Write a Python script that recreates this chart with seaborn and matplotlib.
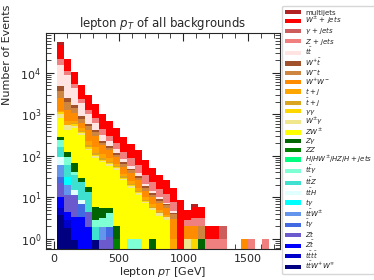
import matplotlib
matplotlib.use("Agg")
import matplotlib.pyplot as plt
from matplotlib.legend_handler import HandlerPatch
from matplotlib.patches import Rectangle
from matplotlib.ticker import MultipleLocator
import numpy as np
import pandas as pd
import seaborn as sns

# lepton pT binning [GeV]
PT_MIN = 21
PT_MAX = 1662
N_BINS = 30

# events per bin, one list per background (bins 0..29)
multijets = [7000, 0, 0, 0, 0, 0, 0, 0, 0, 0, 0, 0, 0, 0, 0, 0, 0, 0, 0, 0.9,
             0, 0, 0, 0, 0, 0, 0, 0, 0, 0]
w_jets = [25600, 10600, 4900, 2800, 1650, 1000, 560, 390, 260, 155, 108, 75, 44, 28, 19,
          14, 9, 8.7, 2.1, 2.85, 2.85, 1, 1, 0, 0, 0, 0, 0, 0, 0]
gam_jets = [0, 0, 0, 0, 0, 0, 0, 0, 0, 0, 0, 0, 0, 0, 0, 0, 0, 0, 0, 0,
            0, 0, 0, 1, 0, 0, 0, 0, 0, 0]
z_jets = [5800, 1900, 1000, 480, 250, 190, 120, 85, 62, 40, 30, 22, 13, 9, 6,
          4.5, 3, 0, 0.9, 1.15, 1.15, 1, 1, 1, 0, 0, 0, 1, 0, 1]
ttbar = [10900, 6440, 2700, 1000, 420, 200, 90, 55, 30, 15, 8, 5, 2.5, 1.5, 1,
         0.6, 0.5, 0, 0, 0, 0, 0, 0, 0, 0, 0, 0, 0, 0, 0]
wp_tbar = [980, 430, 260, 150, 60, 40, 20, 14, 10, 6, 4, 3, 1.5, 1, 0.6,
           0.5, 0.3, 0, 0, 0, 0, 0, 0, 0, 0, 0, 0, 0, 0, 0]
wm_t = [1240, 740, 350, 160, 90, 60, 30, 18, 14, 9, 6, 4, 2.5, 1.5, 1,
        0.8, 0.8, 0, 0, 0, 1, 0, 0, 0, 0, 0, 0, 0, 0, 0]
ww = [1290, 600, 400, 150, 200, 150, 70, 50, 30, 18, 14, 9, 4.5, 3, 2.4,
      1.8, 2.1, 0, 1, 1, 0, 0, 0, 0, 0, 0, 1, 0, 0, 0]
t_j = [80, 130, 80, 60, 50, 40, 20, 15, 8, 5, 4, 2.5, 1.3, 1, 0.6,
       0.5, 1, 0, 0, 0, 0, 0, 0, 0, 0, 0, 0, 0, 0, 0]
tbar_j = [0, 0, 30, 20, 20, 15, 8, 6, 3, 2, 1.5, 1, 0.5, 0.5, 0.3,
          0, 0, 0, 0, 0, 0, 0, 0, 0, 0, 0, 0, 0, 0, 0]
gam_gam = [115, 0, 60, 30, 11, 8, 5, 4, 3, 1.5, 1, 1, 0.3, 0, 0,
           0, 0, 0, 0, 1, 0, 0, 0, 0, 0, 0, 0, 0, 0, 0]
w_gam = [175, 140, 60, 30, 10, 7, 5, 6, 4, 2.5, 1.5, 1, 0.5, 0.5, 0.5,
         0.4, 0, 0, 1, 0, 0, 0, 0, 0, 0, 0, 0, 0, 0, 0]
z_w = [533, 295, 400, 290, 121, 84, 66, 51, 44, 26, 16, 10.5, 7.4, 4, 3.6,
       2.9, 0, 0, 0, 0, 0, 0, 0, 0, 0, 0, 0, 0, 0, 0]
z_gam = [44, 30, 27, 5.9, 4.4, 3, 2.4, 1.4, 1, 0, 0, 0, 0, 1, 0,
         0, 0, 0, 0, 0, 1, 0, 0, 0, 0, 0, 0, 0, 0, 0]
z_z = [0, 0, 0, 0, 0, 0, 0, 0, 1, 0, 0, 0, 0, 0, 0,
       0, 0, 0, 0, 0, 0, 0, 0, 0, 0, 0, 0, 0, 0, 0]
higgs = [0, 0, 0, 0, 0, 0, 0, 0, 0, 0, 0, 0, 0, 0, 0,
         0, 0, 0, 0, 0, 0, 0, 0, 0, 0, 0, 0, 0, 0, 0]
tt_gam = [77, 34, 6.2, 0, 0, 0.9, 1.25, 2.25, 0, 0, 1, 1, 0, 0, 0,
          0, 0, 0, 0, 0, 0, 0, 0, 0, 0, 0, 0, 0, 0, 0]
tt_z = [71, 30, 19.6, 14.9, 9, 1, 0, 0, 0, 0, 0, 0, 0, 0, 0,
        0, 0, 0, 0, 0, 0, 0, 0, 0, 0, 0, 0, 0, 0, 0]
tt_h = [34, 0, 3.7, 1.7, 0, 0, 0, 0, 0, 0, 0, 0, 0, 0, 0,
        0, 0, 0, 0, 0, 0, 0, 0, 0, 0, 0, 0, 0, 0, 0]
t_gam = [0, 11, 0, 0, 0, 0, 0, 0, 0, 0, 0, 0, 0, 0, 0,
         0, 0, 0, 0, 0, 0, 0, 0, 0, 0, 0, 0, 0, 0, 0]
tt_w = [30, 8.5, 0, 0, 0, 0, 1, 0, 0, 0, 0, 0, 0, 0, 0,
        0, 0, 0, 0, 0, 0, 0, 0, 0, 0, 0, 0, 0, 0, 0]
tbar_gam = [8.7, 0, 0, 3.6, 0, 0, 0, 0.8, 0, 0, 0, 0, 0, 0, 0,
            0, 0, 0, 0, 0, 0, 0, 0, 0, 0, 0, 0, 0, 0, 0]
z_t = [12, 7, 8.1, 0, 2.5, 0, 0.95, 1.12, 0, 0, 0, 0, 0, 0, 0,
       0, 0, 0, 0, 0, 0, 0, 0, 0, 0, 0, 0, 0, 0, 0]
z_tbar = [4.7, 1.6, 2.44, 3.4, 1.95, 0, 0, 0, 0, 0, 0, 0, 0, 0, 0,
          0, 0, 0, 0, 0, 0, 0, 0, 0, 0, 0, 0, 0, 0, 0]
tttt = [1.8, 1, 0, 0, 0, 0, 0, 0, 0, 0, 0, 0, 0, 0, 0,
        0, 0, 0, 0, 0, 0, 0, 0, 0, 0, 0, 0, 0, 0, 0]
tt_ww = [3.8, 1.84, 0.95, 0, 0, 0.95, 0, 0, 0, 0, 0, 0, 0, 0, 0,
         0, 0, 0, 0, 0, 0, 0, 0, 0, 0, 0, 0, 0, 0, 0]

# legend order = top of the stack first
processes = [
    ("multijets", "firebrick", multijets),
    (r"$W^{\pm}$ + $jets$", "red", w_jets),
    (r"$\gamma$ + $jets$", "indianred", gam_jets),
    (r"$Z$ + $jets$", "lightcoral", z_jets),
    (r"$t\bar{t}$", "mistyrose", ttbar),
    (r"$W^{+}\bar{t}$", "sienna", wp_tbar),
    (r"$W^{-}t$", "peru", wm_t),
    (r"$W^{+}W^{-}$", "darkorange", ww),
    (r"$t+j$", "orange", t_j),
    (r"$\bar{t}+j$", "goldenrod", tbar_j),
    (r"$\gamma\gamma$", "gold", gam_gam),
    (r"$W^{\pm}\gamma$", "khaki", w_gam),
    (r"$ZW^{\pm}$", "yellow", z_w),
    (r"$Z\gamma$", "darkgreen", z_gam),
    (r"$ZZ$", "green", z_z),
    (r"$H/HW^{\pm}/HZ/H+jets$", "springgreen", higgs),
    (r"$t\bar{t}\gamma$", "aquamarine", tt_gam),
    (r"$t\bar{t}Z$", "turquoise", tt_z),
    (r"$t\bar{t}H$", "lightcyan", tt_h),
    (r"$t\gamma$", "cyan", t_gam),
    (r"$t\bar{t}W^{\pm}$", "cornflowerblue", tt_w),
    (r"$\bar{t}\gamma$", "royalblue", tbar_gam),
    (r"$Zt$", "slateblue", z_t),
    (r"$Z\bar{t}$", "blue", z_tbar),
    (r"$t\bar{t}t\bar{t}$", "mediumblue", tttt),
    (r"$t\bar{t}W^{+}W^{\mp}$", "navy", tt_ww),
]

bin_width = (PT_MAX - PT_MIN) / N_BINS
centers = PT_MIN + bin_width * (np.arange(N_BINS) + 0.5)

rows = []
for label, _, counts in processes:
    for pt, w in zip(centers, counts):
        rows.append({"pt": pt, "weight": w, "process": label})
df = pd.DataFrame(rows)

labels = [p[0] for p in processes]
palette = {p[0]: p[1] for p in processes}


def small_box(legend, orig_handle, xdescent, ydescent, width, height, fontsize):
    # thin colour swatch centred in the row
    h = 0.6 * fontsize
    return Rectangle((-xdescent, -ydescent + (height - h) / 2), width, h)


sns.set_theme(style="ticks")
plt.rcParams["font.family"] = ["DejaVu Sans"]

fig = plt.figure(figsize=(3.74, 2.80), dpi=100)
ax = fig.add_axes([0.123, 0.111, 0.626, 0.771])

sns.histplot(
    data=df,
    x="pt",
    weights="weight",
    hue="process",
    hue_order=labels,
    palette=palette,
    multiple="stack",
    binwidth=bin_width,
    binrange=(PT_MIN, PT_MAX),
    alpha=1,
    linewidth=0,
    ax=ax,
)

ax.set_yscale("log")
ax.set_xlim(-62, 1748)
ax.set_ylim(0.575, 91000)
ax.xaxis.set_major_locator(MultipleLocator(500))
ax.xaxis.set_minor_locator(MultipleLocator(100))
ax.tick_params(which="both", direction="in", top=True, right=True, labelsize=8)
ax.tick_params(which="major", length=6, width=0.8)
ax.tick_params(which="minor", length=3.5, width=0.6)
for side in ax.spines.values():
    side.set_linewidth(0.8)

ax.set_title(r"lepton $p_T$ of all backgrounds", fontsize=8.5, pad=4)
ax.set_xlabel(r"lepton $p_T$ [GeV]", fontsize=8, labelpad=1)
ax.set_ylabel("Number of Events", fontsize=8)
ax.yaxis.set_label_coords(-0.145, 0.9)

sns.move_legend(
    ax,
    "upper left",
    bbox_to_anchor=(1.0085, 1.125),
    borderaxespad=0,
    title=None,
    fontsize=5,
    labelspacing=-0.11,
    handlelength=2.3,
    handleheight=1.0,
    handletextpad=0.6,
    borderpad=0.45,
    frameon=True,
    handler_map={Rectangle: HandlerPatch(patch_func=small_box)},
)

fig.savefig("out.png", dpi=100)
